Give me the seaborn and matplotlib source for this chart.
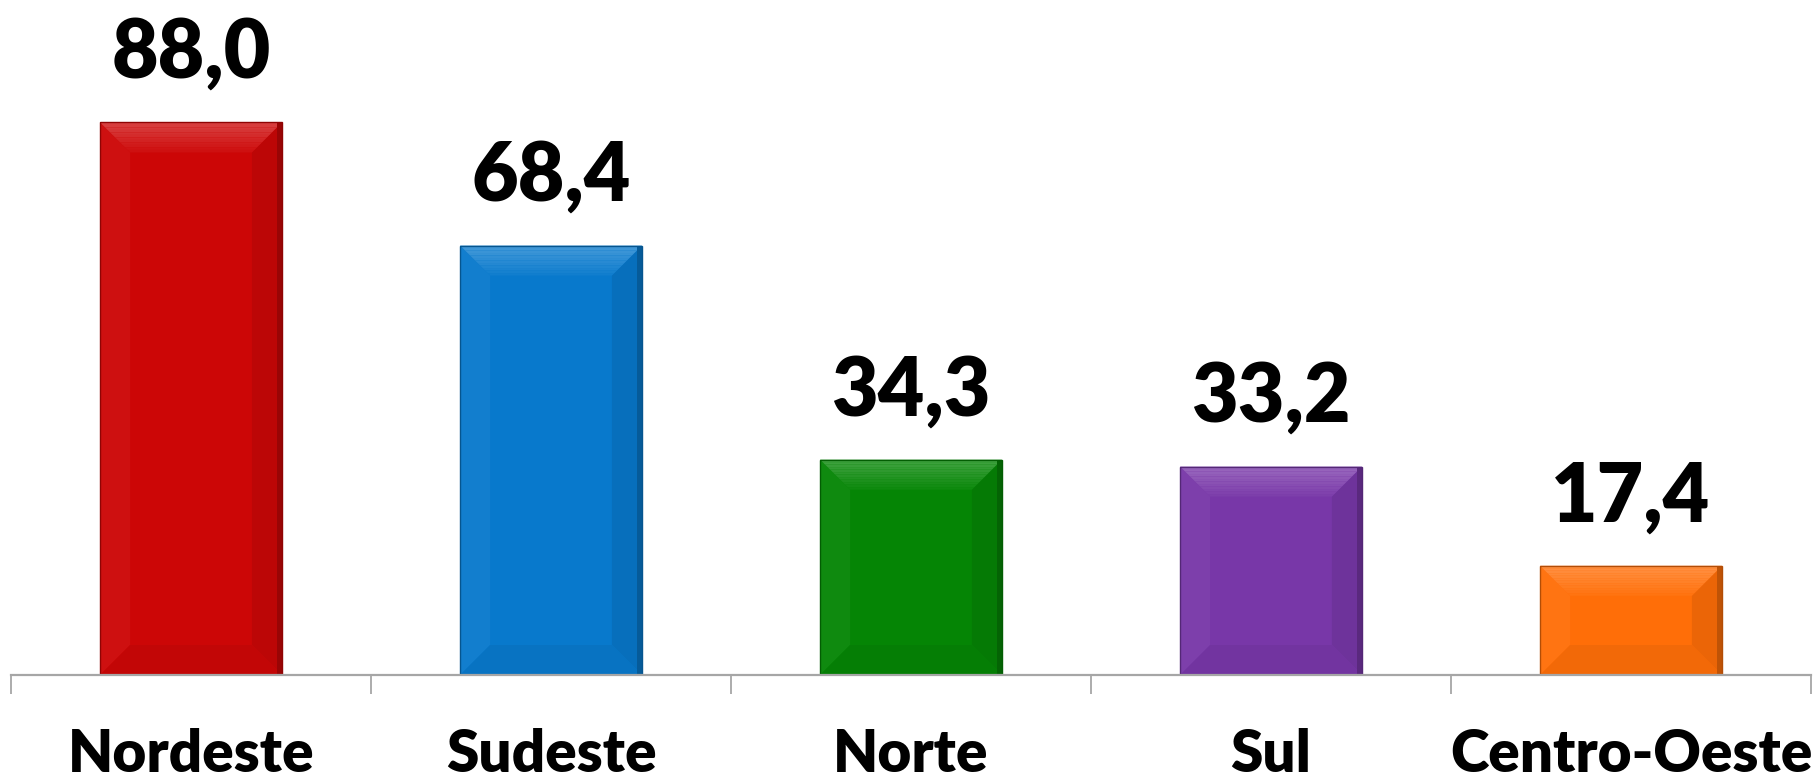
import matplotlib
matplotlib.use("Agg")
import matplotlib.pyplot as plt
import seaborn as sns
import numpy as np
from matplotlib.patches import Polygon
from matplotlib.colors import to_rgb

# Dados por região
regioes = ['Nordeste', 'Sudeste', 'Norte', 'Sul', 'Centro-Oeste']
valores = [88.0, 68.4, 34.3, 33.2, 17.4]
cores = ['#CC0606', '#0879CC', '#058505', '#7837A8', '#FF6E08']
rotulos = [f"{v:.1f}".replace('.', ',') for v in valores]

sns.set_style("white")
plt.rcParams['font.family'] = ['Lato', 'DejaVu Sans']

fig = plt.figure(figsize=(18.14, 7.81), dpi=100)
ax = fig.add_axes([11/1814, 106/781, 1800/1814, 675/781])

sns.barplot(x=regioes, y=valores, hue=regioes, palette=cores, legend=False,
            width=0.505, saturation=1, ax=ax, linewidth=0)
ax.set_xlim(-0.5, 4.5)
ax.set_ylim(0, 107.5)

# efeito de bisel nas barras
def mix(c, other, t):
    c = np.array(to_rgb(c)); o = np.array(to_rgb(other))
    return tuple(c * (1 - t) + o * t)

barras = sorted([p for p in ax.patches if p.get_height() > 0], key=lambda p: p.get_x())

fig.canvas.draw()
inv = ax.transData.inverted()
for p, cor, rot in zip(barras, cores, rotulos):
    x0, y0 = p.get_x(), p.get_y()
    x1, y1 = x0 + p.get_width(), y0 + p.get_height()
    (px0, py0) = ax.transData.transform((x0, y0))
    (px1, py1) = ax.transData.transform((x1, y1))
    b = min(30, (py1 - py0) / 2.5)
    bx = inv.transform((px0 + b, py0))[0] - x0
    by = inv.transform((px0, py0 + b))[1] - y0
    bot = [(x0, y0), (x1, y0), (x1 - bx, y0 + by), (x0 + bx, y0 + by)]
    esq = [(x0, y0), (x0, y1), (x0 + bx, y1 - by), (x0 + bx, y0 + by)]
    dir_ = [(x1, y0), (x1, y1), (x1 - bx, y1 - by), (x1 - bx, y0 + by)]
    ax.add_patch(Polygon(esq, closed=True, color=mix(cor, 'white', 0.04), lw=0))
    ax.add_patch(Polygon(dir_, closed=True, color=mix(cor, 'black', 0.08), lw=0))
    ax.add_patch(Polygon(bot, closed=True, color=mix(cor, 'black', 0.05), lw=0))
    # topo com degradê
    n = 12
    for i in range(n):
        t0, t1 = i / n, (i + 1) / n
        ya, yb = y1 - by * t0, y1 - by * t1
        xa0, xa1 = x0 + bx * t0, x1 - bx * t0
        xb0, xb1 = x0 + bx * t1, x1 - bx * t1
        ax.add_patch(Polygon([(xa0, ya), (xa1, ya), (xb1, yb), (xb0, yb)],
                             closed=True, lw=0,
                             color=mix(cor, 'white', 0.22 * (1 - t0) + 0.02)))
    # faixa escura na borda direita
    ax.add_patch(Polygon([(x1 - bx * 0.15, y0), (x1 - bx * 0.15, y1), (x1, y1), (x1, y0)],
                         closed=True, lw=0, color=mix(cor, 'black', 0.25)))
    ax.add_patch(Polygon([(x0, y0), (x0, y1), (x1, y1), (x1, y0)], closed=True,
                         fill=False, lw=1, edgecolor=mix(cor, 'black', 0.3)))
    ax.annotate(rot, (x0 + p.get_width() / 2, y1), xytext=(0, 22),
                textcoords='offset points', ha='center', va='bottom',
                fontsize=58, fontweight='heavy', color='black')

sns.despine(ax=ax, left=True)
ax.spines['bottom'].set_color('#A6A6A6')
ax.spines['bottom'].set_linewidth(1.6)
ax.set_yticks([])
ax.set_xticks(range(len(regioes)))
ax.set_xticklabels(regioes, fontsize=42, fontweight='heavy', color='black')
ax.set_xticks(np.arange(-0.5, len(regioes)), minor=True)
ax.tick_params(axis='x', which='major', length=0, pad=38)
ax.tick_params(axis='x', which='minor', length=14, width=1.3, color='#A6A6A6',
               direction='out', bottom=True)

fig.savefig("out.png", dpi=100)
